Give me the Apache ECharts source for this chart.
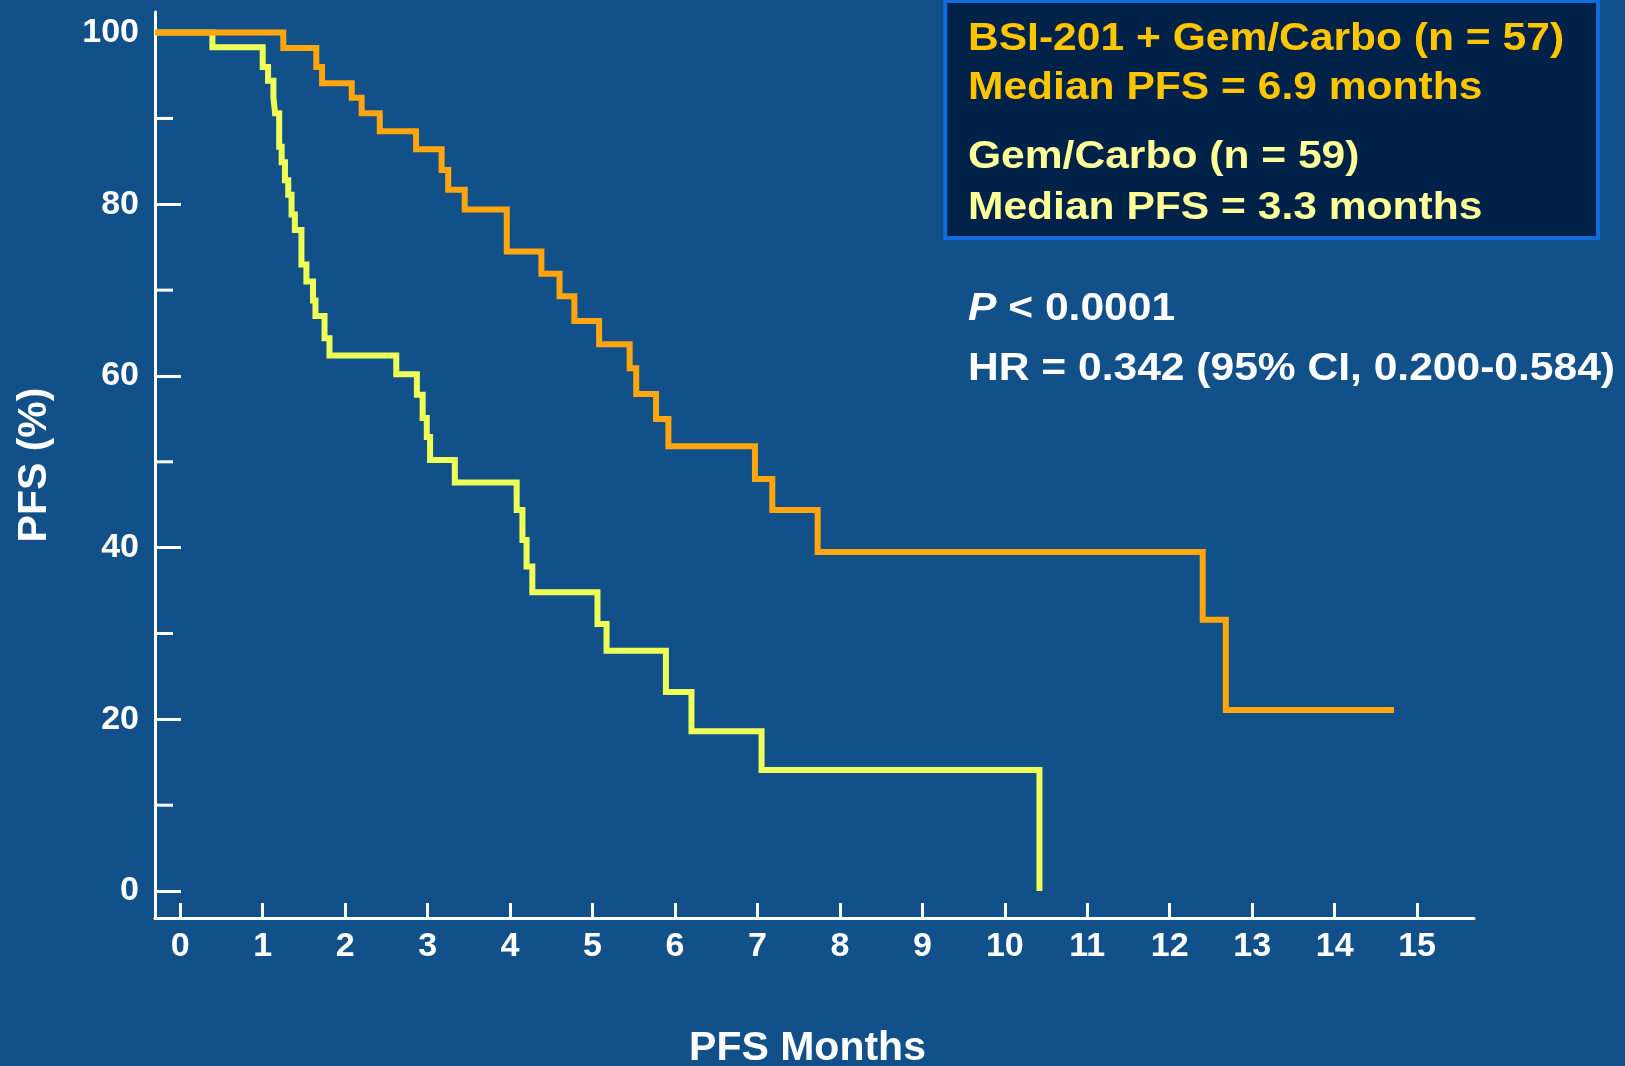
<!DOCTYPE html>
<html>
<head>
<meta charset="utf-8">
<title>PFS Kaplan-Meier</title>
<script src="https://cdn.jsdelivr.net/npm/echarts@6/dist/echarts.min.js"></script>
<style>
  html, body { margin: 0; padding: 0; background: #12508A; }
  #chart { width: 1625px; height: 1066px; }
</style>
</head>
<body>
<div id="chart"></div>
<script>
// Kaplan-Meier progression-free survival, two arms (months, % progression-free)
const bsiTimes  = [0, 1.25, 1.65, 1.72, 2.08, 2.20, 2.42, 2.86, 3.17, 3.25, 3.45, 3.96, 4.38, 4.60, 4.78, 5.08, 5.45, 5.53, 5.77, 5.92, 6.97, 7.18, 7.73, 12.40, 12.68, 14.72];
const bsiLevels = [100, 98.2, 96.0, 94.1, 92.4, 90.6, 88.5, 86.4, 84.0, 81.7, 79.4, 74.5, 71.9, 69.3, 66.4, 63.7, 60.9, 57.9, 55.0, 51.8, 48.0, 44.4, 39.5, 31.6, 21.1, 21.1];

const gcTimes  = [0, 0.39, 1.00, 1.065, 1.13, 1.15, 1.20, 1.23, 1.27, 1.31, 1.35, 1.39, 1.47, 1.53, 1.61, 1.64, 1.75, 1.81, 2.62, 2.87, 2.94, 2.99, 3.03, 3.33, 4.08, 4.15, 4.20, 4.27, 5.06, 5.17, 5.89, 6.20, 7.05, 10.42];
const gcLevels = [100, 98.3, 96.0, 94.4, 92.5, 90.6, 86.7, 84.9, 82.8, 81.1, 78.8, 77.0, 73.0, 71.0, 68.8, 67.0, 64.4, 62.4, 60.2, 57.8, 55.1, 52.9, 50.2, 47.6, 44.4, 40.9, 37.8, 34.8, 31.1, 28.0, 23.2, 18.6, 14.1, 0];

const xTickValues = [0, 1, 2, 3, 4, 5, 6, 7, 8, 9, 10, 11, 12, 13, 14, 15];
const yMajorValues = [0, 20, 40, 60, 80, 100];
const yMinorValues = [10, 30, 50, 70, 90];

const legendLines = [
  'BSI-201 + Gem/Carbo (n = 57)',
  'Median PFS = 6.9 months',
  'Gem/Carbo (n = 59)',
  'Median PFS = 3.3 months'
];
const pValueText = 'P';
const pValueRest = ' < 0.0001';
const hrText = 'HR = 0.342 (95% CI, 0.200-0.584)';

// axis extents (the curves begin at the left edge of the plot)
const X_MIN = -0.306, X_MAX = 15.69;
const Y_MIN = -3.14, Y_MAX = 102.4;

const ORANGE = '#FFA50D';
const YELLOW = '#EEFF58';
const GOLD_TEXT = '#FFC600';
const PALE_TEXT = '#FFFF99';
const FONT = '"Liberation Sans", Arial, Helvetica, sans-serif';

function stepData(times, levels) {
  const pts = [[X_MIN, levels[0]]];
  for (let i = 1; i < times.length; i++) pts.push([times[i], levels[i]]);
  return pts;
}

const chart = echarts.init(document.getElementById('chart'), null, { renderer: 'canvas' });

const textScale = 1.12;
function boxText(str, y, color) {
  return {
    type: 'text',
    x: 968, y: y,
    scaleX: textScale,
    z: 110,
    style: {
      text: str,
      fill: color,
      font: 'bold 38px ' + FONT,
      align: 'left',
      verticalAlign: 'middle'
    }
  };
}

// short inward ticks between the labelled ones on the y axis
function renderMinorTick(params, api) {
  const p = api.coord([api.value(0), api.value(1)]);
  return {
    type: 'line',
    shape: { x1: p[0], y1: p[1], x2: p[0] + 18, y2: p[1] },
    style: { stroke: '#FFFFFF', lineWidth: 3 }
  };
}

const option = {
  backgroundColor: '#12508A',
  animation: false,
  grid: { left: 155, right: 151, top: 12, bottom: 148, containLabel: false, outerBoundsMode: 'none' },
  xAxis: {
    type: 'value',
    min: X_MIN, max: X_MAX,
    name: 'PFS Months',
    nameLocation: 'middle',
    nameGap: 110,
    nameTextStyle: { color: '#FFFFFF', fontSize: 41, fontWeight: 'bold', fontFamily: FONT, padding: [0, 14, 0, 0] },
    axisLine: { show: true, onZero: false, lineStyle: { color: '#FFFFFF', width: 3 } },
    axisTick: { show: true, inside: true, length: 15, customValues: xTickValues, lineStyle: { color: '#FFFFFF', width: 3 } },
    axisLabel: { show: true, customValues: xTickValues, margin: 12, color: '#FFFFFF', fontSize: 34, fontWeight: 'bold', fontFamily: FONT },
    splitLine: { show: false }
  },
  yAxis: {
    type: 'value',
    min: Y_MIN, max: Y_MAX,
    name: 'PFS (%)',
    nameLocation: 'middle',
    nameGap: 100,
    nameRotate: 90,
    nameTextStyle: { color: '#FFFFFF', fontSize: 41, fontWeight: 'bold', fontFamily: FONT },
    axisLine: { show: true, onZero: false, lineStyle: { color: '#FFFFFF', width: 3 } },
    axisTick: { show: true, inside: true, length: 26, customValues: yMajorValues, lineStyle: { color: '#FFFFFF', width: 3 } },
    axisLabel: { show: true, customValues: yMajorValues, margin: 16, color: '#FFFFFF', fontSize: 34, fontWeight: 'bold', fontFamily: FONT },
    splitLine: { show: false }
  },
  series: [
    {
      name: 'minor ticks',
      type: 'custom',
      renderItem: renderMinorTick,
      clip: false,
      silent: true,
      data: yMinorValues.map(v => [X_MIN, v]),
      z: 2
    },
    {
      name: 'Gem/Carbo',
      type: 'line',
      step: 'end',
      showSymbol: false,
      symbol: 'none',
      data: stepData(gcTimes, gcLevels),
      lineStyle: { color: YELLOW, width: 6, join: 'miter', cap: 'butt' },
      z: 3
    },
    {
      name: 'BSI-201 + Gem/Carbo',
      type: 'line',
      step: 'end',
      showSymbol: false,
      symbol: 'none',
      data: stepData(bsiTimes, bsiLevels),
      lineStyle: { color: ORANGE, width: 6, join: 'miter', cap: 'butt' },
      z: 4
    }
  ],
  graphic: [
    {
      type: 'rect',
      z: 100,
      shape: { x: 945.3, y: 1, width: 652.7, height: 237 },
      style: { fill: '#002148', stroke: '#106BDC', lineWidth: 4 }
    },
    boxText(legendLines[0], 39.5, GOLD_TEXT),
    boxText(legendLines[1], 89, GOLD_TEXT),
    boxText(legendLines[2], 158, PALE_TEXT),
    boxText(legendLines[3], 208.5, PALE_TEXT),
    {
      type: 'text',
      x: 968, y: 309.5,
      scaleX: textScale,
      z: 110,
      style: {
        text: '{it|' + pValueText + '}{rg|' + pValueRest + '}',
        align: 'left',
        verticalAlign: 'middle',
        rich: {
          it: { fill: '#FFFFFF', font: 'italic bold 38px ' + FONT },
          rg: { fill: '#FFFFFF', font: 'bold 38px ' + FONT }
        }
      }
    },
    boxText(hrText, 370, '#FFFFFF')
  ]
};

chart.setOption(option);
</script>
</body>
</html>
